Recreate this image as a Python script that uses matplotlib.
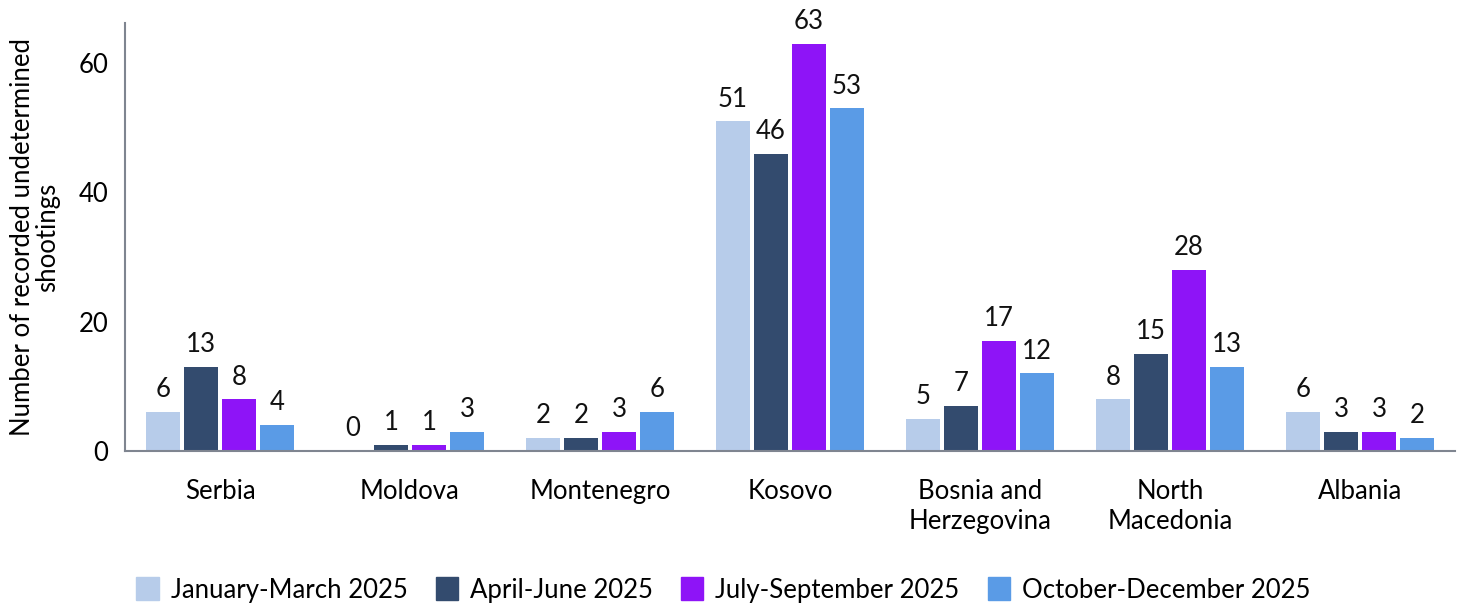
import numpy as np
import matplotlib
matplotlib.use("Agg")
import matplotlib.pyplot as plt
from matplotlib.patches import Patch

# data
countries = ["Serbia", "Moldova", "Montenegro", "Kosovo",
             "Bosnia and\nHerzegovina", "North\nMacedonia", "Albania"]
periods = ["January-March 2025", "April-June 2025",
           "July-September 2025", "October-December 2025"]
jan_mar = [6, 0, 2, 51, 5, 8, 6]
apr_jun = [13, 1, 2, 46, 7, 15, 3]
jul_sep = [8, 1, 3, 63, 17, 28, 3]
oct_dec = [4, 3, 6, 53, 12, 13, 2]
colors = ["#B7CCEA", "#334B6E", "#8E14F7", "#5A9BE6"]

plt.rcParams['font.family'] = ['Lato', 'DejaVu Sans']
FS = 18.5

fig = plt.figure(figsize=(14.6, 6.08), dpi=100)
ax = fig.add_axes([125 / 1460, 1 - 451 / 608, 1330 / 1460, 428 / 608])

x = np.arange(len(countries))
step = 0.2
width = 0.174
series = [jan_mar, apr_jun, jul_sep, oct_dec]
for i, (vals, col) in enumerate(zip(series, colors)):
    pos = x + (i - 1.5) * step
    ax.bar(pos, vals, width=width, color=col)
    for p, v in zip(pos, vals):
        ax.annotate(str(v), (p, v), xytext=(0, 7), textcoords="offset points",
                    ha="center", va="bottom", fontsize=FS, color="#111111")

ax.set_xlim(-0.5, len(countries) - 0.5)
ax.set_ylim(0, 66.2)
ax.set_yticks([0, 20, 40, 60])
ax.set_xticks(x)
ax.set_xticklabels(countries, fontsize=FS, linespacing=1.25)
ax.tick_params(axis="y", labelsize=FS, length=0, pad=12)
ax.tick_params(axis="x", length=0, pad=20)
ax.set_ylabel("Number of recorded undetermined\nshootings", fontsize=FS, labelpad=13, linespacing=1.0)

for s in ["top", "right"]:
    ax.spines[s].set_visible(False)
for s in ["left", "bottom"]:
    ax.spines[s].set_color("#7F8590")
    ax.spines[s].set_linewidth(1.5)

handles = [Patch(facecolor=c, edgecolor=c) for c in colors]
fig.legend(handles, periods, loc="center", bbox_to_anchor=(723.5 / 1460, 1 - 590 / 608), ncol=4,
           frameon=False, fontsize=FS, handlelength=0.86, handleheight=1.0,
           columnspacing=1.1, handletextpad=0.47)

fig.savefig("out.png", dpi=100)
